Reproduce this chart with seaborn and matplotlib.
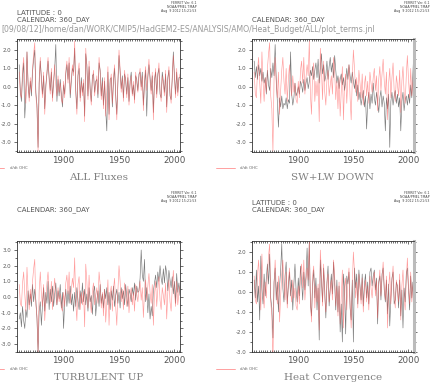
import numpy as np
import pandas as pd
import seaborn as sns
import matplotlib.pyplot as plt
from matplotlib.ticker import MultipleLocator
from matplotlib.lines import Line2D

# ----------------------------
# Data (annual anomalies)
# ----------------------------
years = list(range(1860, 2006))

ohc_tendency = [
    0.8, -0.4, -0.6, 0.9, 1.6, 0.2, -0.9, 1.9, 0.3, -0.8,
    0.5, -0.3, 1.0, 1.8, 2.4, -0.5, -1.2, -3.5, 0.4, 1.6,
    0.2, -0.6, 0.8, -1.5, -0.2, 0.9, 1.6, 0.3, -0.4, 1.0,
    -0.8, 0.4, 1.2, 0.1, -0.5, 0.6, -0.3, 0.2, -0.7, -0.9,
    0.3, -0.6, 0.9, 1.4, 0.2, 1.6, -0.4, 0.5, 1.2, 0.6,
    2.5, -0.4, -1.5, 0.8, 1.3, -0.8, 0.3, -0.5, 0.4, -1.9,
    2.1, 1.0, -0.7, 1.4, -0.3, -1.0, 0.4, 0.9, -0.5, 0.1,
    0.6, -0.4, 1.6, 0.8, -0.7, 0.3, -1.2, 0.5, -1.6, -0.3,
    1.1, -1.8, 0.2, 0.7, -0.9, 0.5, 1.2, -0.6, -1.8, 0.4,
    2.0, 1.0, -0.3, 0.5, -0.8, 0.9, 0.2, -0.6, 0.7, -1.0,
    0.1, 0.6, -0.5, 0.3, -0.9, 0.8, 0.2, -0.3, 0.5, 1.0,
    -0.2, 0.6, -1.3, 0.4, 1.1, -0.2, 0.7, 1.5, 0.3, -0.4,
    0.8, -1.8, 0.2, 1.0, -0.6, 0.5, 1.3, -0.2, -0.8, 0.6,
    0.1, -0.5, 0.9, -1.4, 0.3, 1.1, -0.3, -0.9, 0.6, 1.7,
    0.4, -0.6, 1.0, -0.5, 0.3, 0.7,
]

all_fluxes = [
    1.2, -0.2, -0.8, 0.6, 1.3, -1.7, -0.5, 1.9, 0.1, -0.6,
    0.3, -0.5, 0.8, 1.5, 2.0, -0.3, -1.0, -3.3, 0.2, 1.4,
    0.5, -0.4, 0.6, -1.2, 0.1, 0.7, 1.4, 0.5, -0.2, 0.8,
    -0.6, 0.2, 1.0, 2.3, -0.8, 0.4, -0.5, 0.4, -0.4, -1.1,
    0.1, -0.4, 0.7, 1.2, 0.4, 1.3, -0.6, 0.3, 1.0, 0.8,
    2.1, -0.2, -1.2, 0.6, 1.0, -0.6, 0.5, -0.3, 0.2, -1.6,
    1.8, 1.2, -0.5, 1.1, -0.1, -0.8, 0.6, 0.7, -0.3, 0.3,
    0.4, -0.6, 1.3, 0.9, -0.5, 0.5, -1.0, 0.3, -1.3, -2.4,
    0.8, -1.5, 0.4, 0.5, -1.1, 0.3, 1.0, -0.4, -1.5, 0.2,
    1.7, 0.8, -0.1, 0.6, -0.6, 0.7, 0.4, -0.4, 0.5, -0.8,
    0.3, 0.8, -0.4, 0.1, -0.7, 0.6, 0.4, -0.2, 0.7, 0.8,
    0.0, 0.8, -1.0, 0.2, 0.9, -1.6, 0.5, 1.2, 0.5, -0.2,
    0.6, -1.4, 0.4, 0.8, -0.4, 0.7, 1.0, -0.4, -0.6, 0.8,
    0.3, -0.3, 0.7, -1.1, 0.5, 0.9, -0.5, -0.7, 0.4, 1.9,
    0.6, -0.4, 0.8, -0.3, 0.5, 0.5,
]

sw_lw_down = [
    1.4, 0.5, 1.1, 0.4, 1.2, 0.6, 1.0, 0.3, 0.8, 0.2,
    0.5, -0.4, 0.9, 0.1, -0.2, 1.0, 0.5, 1.3, 0.6, 2.3,
    0.4, -0.8, -2.2, -0.6, -1.1, -0.5, -1.2, -0.9, -1.0, -0.6,
    -1.2, -0.7, -0.9, 1.9, -0.4, -1.0, -0.6, 0.2, -0.5, -0.3,
    0.0, -0.4, 0.3, 0.1, -0.3, 0.4, -0.2, 0.2, 0.5, -0.1,
    0.3, 0.9, 0.6, 1.1, 0.4, 0.9, 1.3, 0.5, 1.5, 0.2,
    1.0, 1.8, 0.7, 1.2, 0.3, 0.6, 1.4, 0.4, 1.1, 1.6,
    0.8, 1.3, 0.5, 1.7, 0.9, 0.2, 0.6, -0.1, 0.4, 0.7,
    0.1, 0.5, -0.2, 0.3, 1.0, 0.4, 1.2, 0.6, 0.2, 0.8,
    0.3, -0.1, 0.4, -0.5, 0.1, -0.7, -0.3, -1.0, -0.6, -0.2,
    -1.1, -0.5, -2.3, -0.8, -0.3, -1.2, -0.4, -0.9, 0.2, -0.6,
    -1.0, -0.3, -0.8, -1.4, -0.6, -0.2, -1.1, -0.5, -0.9, -2.4,
    -0.6, -1.2, -0.4, -3.3, -0.8, -0.3, -1.0, -0.5, -0.2, -0.9,
    -0.4, -1.1, -0.6, -2.4, -0.8, -0.3, -1.3, -0.7, -0.5, -1.0,
    -0.4, -0.9, 0.1, -0.6, 0.8, 2.1,
]

turbulent_up = [
    -1.4, -1.0, -1.9, -0.6, -1.5, -2.0, -0.8, -1.3, 0.4, -0.5,
    0.2, -0.6, 0.8, -0.3, 0.5, -0.2, -1.4, -3.5, -0.9, -0.3,
    -1.8, -0.5, 0.6, -0.9, 0.3, -0.4, 1.0, -0.8, 0.5, -0.3,
    0.7, -0.6, 0.2, 0.9, -0.5, 0.4, -0.1, 0.8, -0.7, 0.3,
    -2.0, -0.3, 0.5, -0.6, 0.4, -0.4, 0.7, -0.5, 0.2, -0.9,
    0.3, -0.6, 0.6, -0.2, -0.8, 0.4, -0.4, 0.9, -0.3, 0.5,
    -0.5, 0.2, -0.9, 0.6, -0.3, 0.1, -1.1, 0.3, 0.7, -1.2,
    -0.2, 0.4, -0.6, 0.8, -0.4, 0.2, -0.7, 0.5, -0.1, 0.6,
    -0.5, 0.3, -0.8, 0.4, -0.2, 0.7, -0.6, 0.1, 0.5, -0.4,
    0.3, -0.7, 0.6, -0.1, 0.4, -0.5, 0.8, 0.0, -0.6, 0.5,
    0.2, -0.3, 0.6, 0.1, 0.9, -0.2, 0.7, 0.3, 0.4, 1.2,
    3.0, 1.4, 1.0, 2.4, -0.3, 0.6, -1.0, 0.2, -1.4, -0.6,
    -1.2, 0.4, 0.9, 1.4, 0.6, 1.6, 1.0, 2.0, 1.2, 0.8,
    1.8, 0.9, 2.0, 1.5, 0.4, 1.7, 1.1, 0.6, 1.3, 0.2,
    1.0, -0.4, 1.5, 0.3, 0.9, 0.1,
]

heat_convergence = [
    0.6, -0.3, 1.1, -0.5, 0.3, -1.4, 1.8, 0.2, -0.6, 0.9,
    -0.2, 0.7, 1.4, 0.4, 1.9, -0.3, -0.8, -2.3, 0.5, 1.2,
    -0.4, 0.5, -1.0, 0.3, 1.1, 2.4, 0.2, -0.5, 0.8, 1.5,
    -0.6, 0.3, 1.0, -0.2, 0.6, -0.9, 0.4, 1.4, 0.1, -0.5,
    0.7, -0.2, 1.3, 0.5, -0.4, 1.0, 0.1, 0.8, 2.2, 0.3,
    2.5, -0.6, -1.2, 0.4, 1.1, -0.3, 0.7, -0.9, 0.2, -2.4,
    1.6, 0.6, -0.5, 1.2, 0.1, -1.3, 0.5, 1.3, -0.7, 0.2,
    0.9, -0.1, 1.5, 0.4, -0.9, 0.6, -1.0, 0.3, -2.0, -0.6,
    -2.5, 0.9, 0.1, -2.1, 0.8, 0.4, 1.0, -0.8, -1.4, 0.6,
    -2.5, 1.2, 0.2, 0.9, -0.6, 1.1, 0.3, -0.4, 0.9, -0.7,
    0.4, 0.9, -0.3, 0.5, -0.6, 1.0, 1.2, 0.3, 0.8, 1.1,
    0.1, 0.7, -1.6, 0.5, 0.8, -0.4, 0.9, 1.2, 0.1, -0.5,
    0.6, -1.1, 0.4, -1.7, -0.3, 0.7, 1.0, -0.6, -0.4, 0.5,
    0.3, -0.8, 0.6, -1.2, 0.1, -1.8, 0.2, -0.5, 0.9, 1.2,
    0.2, -0.9, 0.8, -0.3, 0.5, -1.0,
]

titles = ["ALL Fluxes", "SW+LW DOWN", "TURBULENT UP", "Heat Convergence"]
fluxes = [all_fluxes, sw_lw_down, turbulent_up, heat_convergence]
ylims = [(-3.55, 2.6), (-3.55, 2.6), (-3.5, 3.57), (-3.0, 2.55)]

# ----------------------------
# Figure
# ----------------------------
sns.set_style("ticks")
plt.rcParams["font.family"] = ["DejaVu Sans"]

W, H = 431, 384
fig = plt.figure(figsize=(W / 100, H / 100), dpi=100)

def px_box(x0, y0, x1, y1):
    return [x0 / W, 1 - y1 / H, (x1 - x0) / W, (y1 - y0) / H]

boxes = [px_box(17, 39, 180, 152), px_box(252, 39, 414, 152),
         px_box(17, 241, 180, 352), px_box(252, 241, 414, 352)]

grey = "#808080"
for k in range(4):
    ax = fig.add_axes(boxes[k])
    df = pd.DataFrame({
        "year": years + years,
        "value": fluxes[k] + ohc_tendency,
        "series": ["flux"] * len(years) + ["d/dt OHC"] * len(years),
    })
    sns.lineplot(data=df, x="year", y="value", hue="series",
                 palette={"flux": "#404040", "d/dt OHC": "#ff5a5a"},
                 linewidth=0.45, legend=False, ax=ax)
    for ln, a in zip(ax.lines, [0.7, 0.6]):
        ln.set_alpha(a)
    ax.set_xlim(1858, 2005)
    ax.set_ylim(*ylims[k])
    ax.set_xlabel("")
    ax.set_ylabel("")
    ax.xaxis.set_major_locator(MultipleLocator(50))
    ax.xaxis.set_minor_locator(MultipleLocator(2))
    ax.yaxis.set_major_locator(MultipleLocator(1.0))
    ax.yaxis.set_minor_locator(MultipleLocator(0.5))
    ax.yaxis.set_major_formatter(plt.FuncFormatter(lambda v, p: f"{v:.1f}"))
    ax.tick_params(which="both", top=True, right=True, direction="out",
                   width=0.5, color="#333333")
    ax.tick_params(which="major", length=2.5)
    ax.tick_params(which="minor", length=1.3)
    ax.tick_params(axis="x", which="both", direction="in")
    ax.tick_params(axis="x", labelsize=6.3, labelcolor="#555555", pad=3)
    ax.tick_params(axis="y", labelsize=3.9, labelcolor="#555555", pad=1.5)
    for s in ax.spines.values():
        s.set_linewidth(0.6)
        s.set_color("#333333")
    if k % 2 == 1:
        ax.spines["right"].set_linewidth(2.2)
        ax.spines["right"].set_color("#bbbbbb")

    # panel headers
    xl = 17 if k % 2 == 0 else 252
    yt = 0 if k < 2 else 190
    xr = 197 if k % 2 == 0 else 430
    fig.text(xr / W, 1 - (yt + 1) / H,
             "FERRET Ver. 6.1\nNOAA/PMEL TMAP\nAug  9 2012 15:21:53",
             fontsize=2.3, ha="right", va="top", color="#444444",
             linespacing=1.0)
    if k in (0, 3):
        fig.text(xl / W, 1 - (yt + 13) / H, "LATITUDE : 0", fontsize=5,
                 ha="left", va="center", color="#555555")
    fig.text(xl / W, 1 - (yt + 19.5) / H, "CALENDAR: 360_DAY", fontsize=5,
             ha="left", va="center", color="#555555")

    # legend line and title below the axes
    yb = 168 if k < 2 else 369
    if k % 2 == 0:
        lx0, lx1, tx = -10, 4, 10
    else:
        lx0, lx1, tx = 216, 235, 240
    fig.add_artist(Line2D([lx0 / W, lx1 / W], [1 - yb / H, 1 - yb / H],
                          color="#ff9090", linewidth=0.6))
    fig.text(tx / W, 1 - yb / H, "d/dt OHC", fontsize=2.8, ha="left",
             va="center", color="#666666")
    cx = 99 if k % 2 == 0 else 333
    ty = 177 if k < 2 else 378
    fig.text(cx / W, 1 - ty / H, titles[k], fontsize=7.5, ha="center",
             va="center", color=grey, family="DejaVu Serif")

fig.text(1 / W, 1 - 30 / H,
         "[09/08/12]/home/dan/WORK/CMIP5/HadGEM2-ES/ANALYSIS/AMO/Heat_Budget/ALL/plot_terms.jnl",
         fontsize=5.6, ha="left", va="center", color="#999999")

plt.savefig("out.png", dpi=100)
